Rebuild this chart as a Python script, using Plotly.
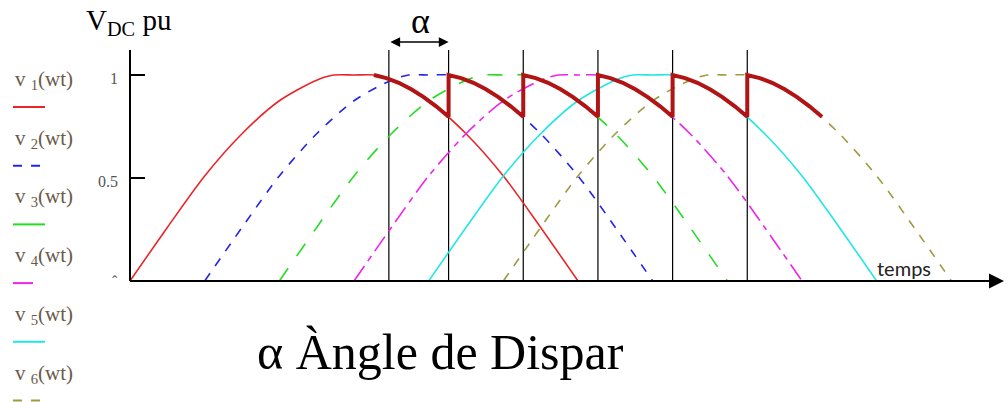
import plotly.graph_objects as go

W, H = 1008, 402

# one phase pulse, degrees from start of conduction -> per-unit voltage
pulse_deg = [0, 15, 30, 45, 60, 75, 82, 90, 98, 105, 120, 135, 150, 165, 180]
pulse_pu = [0.0, 0.26, 0.51, 0.715, 0.875, 0.975, 1.0, 1.0, 1.0, 0.975, 0.875, 0.715, 0.51, 0.26, 0.0]

phase_names = ["1", "2", "3", "4", "5", "6"]
phase_start = [0, 30, 60, 90, 120, 150]
phase_colors = ["#e8262a", "#2424e6", "#22dd22", "#ee22ee", "#22e6e6", "#9c9c40"]
phase_dash = ["solid", "dash", "longdash", "18px,6px,6px,6px", "solid", "dash"]
legend_dash = ["solid", "dash", "solid", "solid", "solid", "dash"]

# output voltage while each phase conducts (delayed by the firing angle)
dc_deg = [98, 103, 108, 113, 118, 123, 128]
dc_pu = [1.0, 0.985, 0.962, 0.931, 0.893, 0.848, 0.797]

# firing instants
firing_deg = [104, 128, 158, 188, 218, 248]

y_ticks = [0.5, 1]
y_tick_text = ["0.5", "1"]

# pixel frame of the drawing
X0_PX, DEG_PX = 130, 2.489
Y0_PX, PU_PX = 281, 206


def px_x(px):
    return (px - X0_PX) / DEG_PX


def px_y(py):
    return (Y0_PX - py) / PU_PX


fig = go.Figure()

for name, start, color, dash in zip(phase_names, phase_start, phase_colors, phase_dash):
    fig.add_trace(go.Scatter(
        x=[start + d for d in pulse_deg], y=pulse_pu, mode="lines",
        line=dict(color=color, width=1.6, dash=dash, shape="spline", smoothing=0.8),
        name=f"v{name}(wt)", hoverinfo="skip",
    ))

# thick output envelope
env_x, env_y = [], []
for start in phase_start:
    env_x += [start + d for d in dc_deg]
    env_y += dc_pu
fig.add_trace(go.Scatter(
    x=env_x, y=env_y, mode="lines",
    line=dict(color="#b11414", width=4), hoverinfo="skip", name="Vdc",
))

shapes = []
top = px_y(50)
for f in firing_deg:
    shapes.append(dict(type="line", xref="x", yref="y", x0=f, x1=f, y0=0, y1=top,
                       line=dict(color="black", width=1.2), layer="below"))
# axes
shapes.append(dict(type="line", xref="x", yref="y", x0=0, x1=0, y0=0, y1=top,
                   line=dict(color="black", width=2)))
shapes.append(dict(type="line", xref="x", yref="y", x0=0, x1=px_x(992), y0=0, y1=0,
                   line=dict(color="black", width=2)))
for t in y_ticks:
    shapes.append(dict(type="line", xref="x", yref="y", x0=0, x1=px_x(145), y0=t, y1=t,
                       line=dict(color="black", width=2)))

annotations = []
for t, txt in zip(y_ticks, y_tick_text):
    annotations.append(dict(x=px_x(120), y=t - 0.015, xref="x", yref="y", text=txt, showarrow=False,
                            xanchor="right", yanchor="middle",
                            font=dict(family="Liberation Serif", size=16, color="#555555")))
annotations.append(dict(x=px_x(120), y=0, xref="x", yref="y", text="ˆ", showarrow=False,
                        xanchor="right", yanchor="middle",
                        font=dict(family="Liberation Serif", size=16, color="#555555")))

# x axis arrow head
annotations.append(dict(x=px_x(1004), y=0, ax=px_x(980), ay=0, xref="x", yref="y",
                        axref="x", ayref="y", text="", showarrow=True, arrowhead=2,
                        arrowsize=1.5, arrowwidth=2, arrowcolor="black"))
# firing angle arrow
annotations.append(dict(x=firing_deg[1], y=px_y(42), ax=firing_deg[0], ay=px_y(42),
                        xref="x", yref="y", axref="x", ayref="y", text="", showarrow=True,
                        arrowhead=2, startarrowhead=2, arrowside="end+start",
                        arrowsize=1.3, startarrowsize=1.3, arrowwidth=1.5, arrowcolor="black"))
annotations.append(dict(x=px_x(420), y=px_y(21), xref="x", yref="y", text="α",
                        showarrow=False, font=dict(family="Liberation Serif", size=36, color="black")))

annotations.append(dict(x=px_x(84), y=px_y(22), xref="x", yref="y", xanchor="left",
                        text="V<sub>DC</sub> pu", showarrow=False,
                        font=dict(family="Liberation Serif", size=29, color="black")))
annotations.append(dict(x=px_x(904), y=px_y(268), xref="x", yref="y", text="temps",
                        showarrow=False, font=dict(family="Lato", size=20, color="#222222")))
annotations.append(dict(x=px_x(440), y=px_y(352), xref="x", yref="y", text="α Àngle de Dispar",
                        showarrow=False, font=dict(family="Liberation Serif", size=50, color="black")))

# legend column
for i, (name, color, dash) in enumerate(zip(phase_names, phase_colors, legend_dash)):
    ty = 80 + 58.7 * i
    ly = 107 + 58.7 * i
    annotations.append(dict(x=13 / W, y=1 - ty / H, xref="paper", yref="paper", xanchor="left",
                            yanchor="middle", text=f"v <sub>{name}</sub>(wt)", showarrow=False,
                            font=dict(family="Liberation Serif", size=21, color="#6a5a4a")))
    x_end = 33 if i == 3 else 45
    shapes.append(dict(type="line", xref="paper", yref="paper", x0=13 / W, x1=x_end / W,
                       y0=1 - ly / H, y1=1 - ly / H, line=dict(color=color, width=2, dash=dash)))

fig.update_layout(
    width=W, height=H, margin=dict(l=0, r=0, t=0, b=0),
    paper_bgcolor="white", plot_bgcolor="white", showlegend=False,
    xaxis=dict(range=[px_x(0), px_x(W)], visible=False, fixedrange=True),
    yaxis=dict(range=[px_y(H), px_y(0)], visible=False, fixedrange=True),
    shapes=shapes, annotations=annotations,
)

fig.write_html("out.html")
